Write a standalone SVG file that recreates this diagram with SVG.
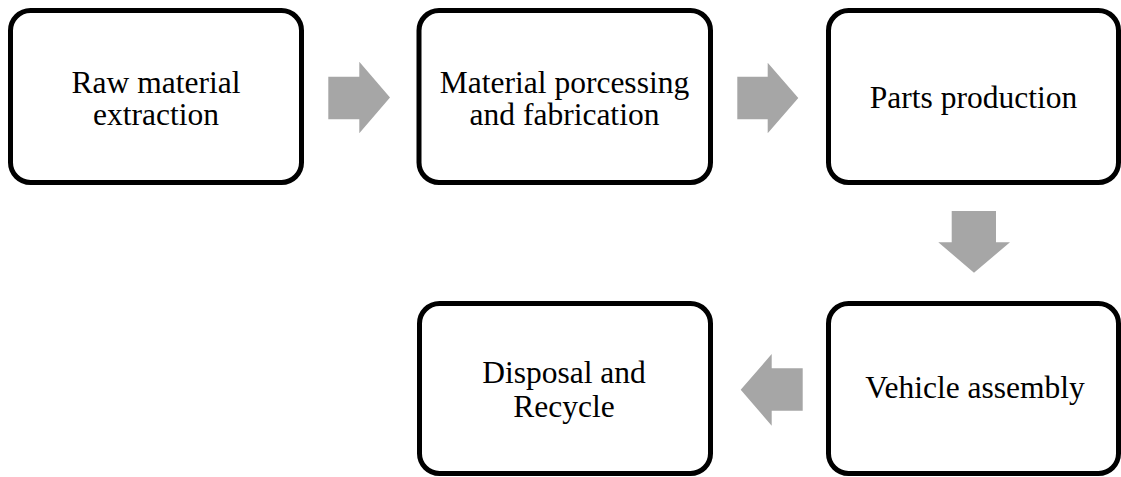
<svg xmlns="http://www.w3.org/2000/svg" width="1121" height="477" viewBox="0 0 1121 477">
<style>
.box{fill:#fff;stroke:#000;stroke-width:5}
.lbl{font-family:"Liberation Serif","Times New Roman",serif;font-size:31.5px;fill:#000;text-anchor:middle}
.arr{fill:#A6A6A6;stroke:none}
</style>
<rect width="1121" height="477" fill="#fff"/>
<g id="node-raw">
<rect class="box" x="10.5" y="10.5" width="291" height="172" rx="20"/>
<text class="lbl" x="156" y="92.7">Raw material</text>
<text class="lbl" x="156" y="124.9">extraction</text>
</g>
<g id="node-processing">
<rect class="box" x="419" y="10.5" width="291.5" height="172" rx="20"/>
<text class="lbl" x="564.5" y="93">Material porcessing</text>
<text class="lbl" x="564.5" y="125">and fabrication</text>
</g>
<g id="node-parts">
<rect class="box" x="828.5" y="10.5" width="290" height="172" rx="20"/>
<text class="lbl" x="973.5" y="108.3">Parts production</text>
</g>
<g id="node-assembly">
<rect class="box" x="828.5" y="303.5" width="290" height="170" rx="20"/>
<text class="lbl" x="975" y="398.3">Vehicle assembly</text>
</g>
<g id="node-disposal">
<rect class="box" x="419.5" y="303.5" width="291" height="170" rx="20"/>
<text class="lbl" x="564" y="383.3">Disposal and</text>
<text class="lbl" x="564" y="416.5">Recycle</text>
</g>
<g id="connectors">
<polygon class="arr" points="328.3,76.7 359.3,76.7 359.3,61.7 390,97.5 359.3,133.3 359.3,119.3 328.3,119.3"/>
<polygon class="arr" points="737.3,76.7 767.7,76.7 767.7,62.7 798.3,98 767.7,133.3 767.7,119.3 737.3,119.3"/>
<polygon class="arr" points="951.7,211 996,211 996,242.3 1010,242.3 974,272.7 938.3,242.3 951.7,242.3"/>
<polygon class="arr" points="802.7,368.3 802.7,410.7 771.7,410.7 771.7,425.7 740.7,389.8 771.7,354 771.7,368.3"/>
</g>
</svg>
